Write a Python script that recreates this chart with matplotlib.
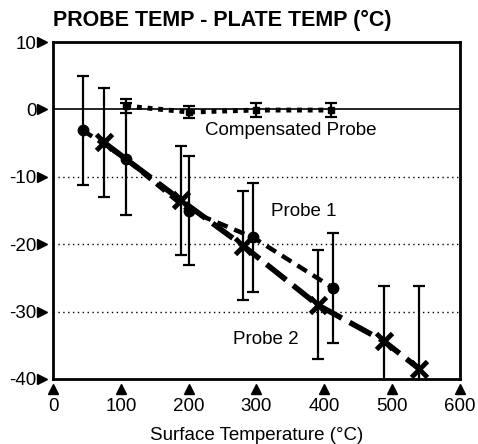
import matplotlib
matplotlib.use("Agg")
import matplotlib.pyplot as plt
import matplotlib.transforms as mtransforms

plt.rcParams['font.family'] = ['Liberation Sans', 'DejaVu Sans']

# Data
p1_x = [44, 108, 200, 295, 413]
p1_y = [-3.1, -7.4, -15.0, -19.0, -26.5]
p1_err = [8.1, 8.3, 8.1, 8.1, 8.1]

p2_x = [75, 189, 280, 390, 488, 540]
p2_y = [-4.9, -13.5, -20.2, -29.0, -34.4, -38.5]
p2_err = [8.1, 8.1, 8.1, 8.1, 8.2, 12.3]

comp_x = [108, 201, 299, 410]
comp_y = [0.5, -0.4, -0.1, -0.1]
comp_err = [1.0, 0.9, 1.1, 1.0]

x_ticks = [0, 100, 200, 300, 400, 500, 600]
y_ticks = [10, 0, -10, -20, -30, -40]

fig = plt.figure(figsize=(4.78, 4.44), dpi=100)
ax = fig.add_axes([0.1109, 0.1464, 0.8514, 0.759])
ax.set_xlim(0, 600)
ax.set_ylim(-40, 10)

# grid lines
ax.axhline(0, color='black', lw=1.2, zorder=1)
for yv in [-10, -20, -30]:
    ax.axhline(yv, color='black', lw=1.0, ls=(0, (1, 2.5)), zorder=1)

# error bars
for xs, ys, es in [(p1_x, p1_y, p1_err), (p2_x, p2_y, p2_err),
                   (comp_x, comp_y, comp_err)]:
    ax.errorbar(xs, ys, yerr=es, fmt='none', ecolor='black',
                elinewidth=1.6, capsize=4.5, capthick=1.6, zorder=3)

# lines
ax.plot(p1_x, p1_y, color='black', lw=3.2, ls=(0, (2.5, 1.6)),
        marker='o', ms=7.5, zorder=4)
ax.plot(p2_x, p2_y, color='black', lw=4.0, ls=(0, (4.5, 1.6)),
        marker='x', ms=11, mew=3.5, zorder=4)
ax.plot(comp_x, comp_y, color='black', lw=3.5, ls=(0, (1.0, 1.2)),
        marker='s', ms=5, zorder=4)

# annotations
fs = 13.5
ax.text(224, -3.1, 'Compensated Probe', fontsize=fs, va='center', ha='left')
ax.text(322, -15.1, 'Probe 1', fontsize=fs, va='center', ha='left')
ax.text(265, -34.2, 'Probe 2', fontsize=fs, va='center', ha='left')

# ticks
ax.set_xticks(x_ticks)
ax.set_yticks(y_ticks)
ax.set_xticklabels([str(v) for v in x_ticks], fontsize=fs)
ax.set_yticklabels([str(v) for v in y_ticks], fontsize=fs)
ax.tick_params(axis='both', length=0)
ax.tick_params(axis='x', pad=14)
ax.tick_params(axis='y', pad=12)

# triangle tick markers
tx = mtransforms.blended_transform_factory(ax.transData, ax.transAxes)
ty = mtransforms.blended_transform_factory(ax.transAxes, ax.transData)
ax.plot(x_ticks, [-0.03] * len(x_ticks), ls='none', marker='^', ms=7,
        color='black', transform=tx, clip_on=False)
ax.plot([-0.026] * len(y_ticks), y_ticks, ls='none', marker='>', ms=7,
        color='black', transform=ty, clip_on=False)

for s in ax.spines.values():
    s.set_linewidth(2.0)

ax.set_xlabel('Surface Temperature (°C)', fontsize=fs, labelpad=8.5)
fig.text(0.111, 0.953, 'PROBE TEMP - PLATE TEMP (°C)', fontsize=15.5,
         fontweight='bold', ha='left', va='center')

fig.savefig('out.png', dpi=100)
